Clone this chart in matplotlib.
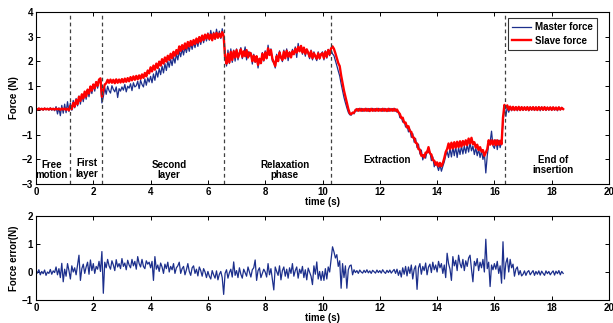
import numpy as np
import matplotlib
matplotlib.use("Agg")
import matplotlib.pyplot as plt

plt.rcParams['font.family'] = ['Liberation Sans', 'DejaVu Sans']
plt.rcParams['font.weight'] = 'bold'
plt.rcParams['axes.labelweight'] = 'bold'

# sampling: 0.05 s from 0 to 18.4 s
t_end = 18.4

master_force = [
    0.08,0.01,0.09,0.02,0.08,0.00,0.09,0.02,0.08,0.01,0.10,0.00,0.08,-0.02,0.15,-0.15,0.10,-0.22,0.20,-0.12,
    0.25,-0.10,0.35,-0.05,0.30,0.00,0.40,0.10,0.48,0.18,0.58,0.25,0.65,0.35,0.75,0.45,0.85,0.55,0.95,0.68,
    1.05,0.78,1.15,0.90,1.20,1.25,0.30,0.55,0.92,0.65,0.98,0.80,0.70,1.00,0.85,0.75,0.95,0.52,0.88,0.78,
    0.95,0.82,1.05,0.75,0.98,0.90,1.08,0.80,1.12,0.95,1.00,1.18,0.88,1.22,1.05,0.95,1.28,1.02,1.32,1.15,
    1.38,1.12,1.48,1.22,1.60,1.35,1.70,1.45,1.80,1.52,1.90,1.62,2.00,1.75,2.08,1.82,2.18,1.92,2.30,2.05,
    2.42,2.18,2.50,2.25,2.58,2.35,2.65,2.40,2.72,2.48,2.78,2.55,2.85,2.60,2.92,2.68,3.00,2.75,3.05,2.82,
    3.15,2.85,3.25,2.90,3.18,2.88,3.30,2.95,3.22,2.92,3.32,3.00,2.30,1.80,2.45,1.90,2.50,1.95,2.45,2.00,
    2.50,2.05,2.35,2.55,2.10,2.30,2.58,2.05,2.40,2.20,2.35,1.88,2.28,1.95,2.20,1.72,2.10,1.90,2.35,2.00,
    2.42,2.10,2.65,2.25,2.50,2.00,1.95,1.72,2.28,2.00,2.42,2.15,1.98,2.45,2.10,2.50,2.02,2.38,2.15,2.48,
    2.30,2.58,2.15,2.72,2.40,2.62,2.28,2.55,2.20,2.48,2.30,2.10,2.45,2.05,2.38,2.15,2.02,2.38,2.08,2.30,
    2.38,2.05,2.42,2.12,2.48,2.22,2.45,2.30,2.22,2.02,1.82,1.60,1.40,1.08,0.80,0.52,0.30,0.10,-0.08,-0.18,
    -0.20,-0.08,-0.15,0.04,-0.04,0.07,-0.03,0.08,-0.04,0.07,-0.03,0.08,-0.04,0.07,-0.02,0.08,-0.04,0.07,-0.03,0.08,
    -0.03,0.07,-0.04,0.08,-0.03,0.06,-0.04,0.08,-0.03,0.07,-0.04,0.06,-0.08,-0.05,-0.30,-0.28,-0.48,-0.45,-0.68,-0.62,
    -0.88,-0.78,-1.10,-0.95,-1.30,-1.15,-1.52,-1.38,-1.78,-1.62,-2.02,-1.80,-1.95,-1.65,-1.72,-1.70,-2.05,-1.90,-2.30,-2.10,
    -2.25,-2.45,-2.22,-2.48,-2.28,-2.10,-1.85,-1.68,-1.92,-1.55,-1.90,-1.50,-1.85,-1.48,-1.92,-1.52,-1.80,-1.45,-1.78,-1.45,
    -1.75,-1.40,-1.70,-1.32,-1.65,-1.45,-1.80,-1.52,-1.85,-1.58,-1.92,-1.65,-2.00,-1.75,-2.55,-1.85,-1.40,-1.30,-0.85,-1.45,
    -1.55,-1.20,-1.60,-1.22,-1.52,-1.28,-0.50,0.12,-0.25,0.15,-0.08,0.12,-0.02,0.13,-0.01,0.14,-0.02,0.12,-0.01,0.13,
    -0.01,0.14,0.00,0.13,-0.02,0.14,0.00,0.12,-0.01,0.14,0.00,0.13,-0.02,0.14,0.00,0.12,-0.01,0.13,0.00,0.12,
    -0.01,0.13,0.00,0.12,-0.02,0.13,0.01,0.12,0.04,
]

slave_force = [
    0.06,0.03,0.07,0.04,0.06,0.03,0.07,0.04,0.06,0.03,0.07,0.04,0.06,0.03,0.07,0.04,0.06,0.02,0.07,0.03,
    0.07,0.02,0.06,0.00,0.18,0.05,0.30,0.15,0.42,0.25,0.55,0.38,0.65,0.48,0.76,0.56,0.84,0.68,0.97,0.80,
    1.05,0.90,1.15,1.00,1.25,1.30,0.55,0.80,1.05,1.10,1.24,1.12,1.25,1.12,1.24,1.10,1.26,1.12,1.25,1.13,
    1.27,1.14,1.29,1.16,1.31,1.18,1.35,1.22,1.38,1.24,1.40,1.26,1.42,1.28,1.46,1.32,1.52,1.38,1.62,1.50,
    1.75,1.58,1.82,1.65,1.90,1.72,1.98,1.82,2.08,1.90,2.15,1.98,2.22,2.05,2.30,2.12,2.38,2.22,2.45,2.30,
    2.60,2.42,2.65,2.48,2.72,2.52,2.78,2.60,2.82,2.65,2.86,2.70,2.92,2.75,2.98,2.80,3.04,2.86,3.08,2.92,
    3.10,2.90,3.08,2.85,3.12,2.92,3.15,2.95,3.12,2.98,3.18,3.02,2.15,1.90,2.30,1.95,2.38,2.05,2.40,2.15,
    2.45,2.15,2.30,2.48,2.18,2.40,2.20,2.45,2.15,2.35,2.30,2.00,2.22,1.98,2.20,1.85,2.10,1.92,2.30,2.05,
    2.35,2.12,2.52,2.25,2.45,2.10,1.95,1.80,2.20,2.00,2.35,2.15,2.05,2.38,2.12,2.42,2.18,2.35,2.15,2.40,
    2.28,2.50,2.35,2.58,2.40,2.62,2.35,2.55,2.30,2.48,2.35,2.18,2.40,2.12,2.32,2.20,2.10,2.32,2.12,2.28,
    2.32,2.12,2.38,2.18,2.45,2.28,2.52,2.60,2.50,2.32,2.12,1.92,1.80,1.42,1.12,0.80,0.55,0.30,0.06,-0.12,
    -0.16,-0.10,-0.10,0.00,0.05,-0.02,0.06,-0.02,0.05,-0.02,0.06,-0.02,0.05,-0.03,0.06,-0.02,0.05,-0.02,0.06,-0.02,
    0.05,-0.02,0.06,-0.02,0.05,-0.03,0.06,-0.02,0.05,-0.02,0.06,-0.02,0.03,-0.08,-0.15,-0.32,-0.30,-0.50,-0.50,-0.70,
    -0.65,-0.85,-0.88,-1.10,-1.12,-1.32,-1.35,-1.58,-1.60,-1.85,-1.82,-1.92,-1.72,-1.72,-1.50,-1.75,-1.80,-2.02,-2.05,-2.22,
    -2.12,-2.28,-2.14,-2.28,-2.15,-1.95,-1.70,-1.58,-1.35,-1.58,-1.32,-1.55,-1.30,-1.52,-1.28,-1.50,-1.26,-1.48,-1.25,-1.42,
    -1.22,-1.42,-1.15,-1.35,-1.12,-1.38,-1.30,-1.52,-1.40,-1.62,-1.50,-1.68,-1.62,-1.85,-1.72,-1.58,-1.22,-1.40,-1.22,-1.40,
    -1.22,-1.42,-1.22,-1.40,-1.24,-1.38,-0.30,0.22,0.12,0.20,0.02,0.15,0.02,0.14,0.01,0.13,0.02,0.14,0.01,0.13,
    0.02,0.12,0.02,0.13,0.01,0.12,0.03,0.13,0.02,0.12,0.01,0.13,0.03,0.12,0.02,0.13,0.02,0.11,0.03,0.12,
    0.02,0.12,0.03,0.11,0.02,0.12,0.03,0.10,0.05,
]

force_error = [
    0.05,-0.04,0.08,-0.10,0.02,-0.06,0.07,-0.12,0.00,-0.05,0.09,-0.08,0.04,-0.02,0.18,-0.10,0.12,-0.20,0.31,-0.35,
    0.10,-0.15,0.30,0.05,-0.25,0.22,0.00,0.15,-0.10,0.25,0.60,-0.30,0.12,0.28,-0.05,0.18,0.35,-0.08,0.43,0.05,
    0.30,-0.05,0.20,0.10,0.38,0.02,0.73,-0.76,0.35,0.15,0.45,0.22,0.10,0.40,0.25,0.05,0.44,0.18,0.30,0.12,
    0.48,0.20,0.32,0.08,0.42,0.25,0.15,0.45,0.22,0.38,0.10,0.55,0.30,0.18,0.45,0.20,0.12,0.40,0.28,0.35,
    0.15,0.38,-0.30,0.55,0.10,0.25,0.02,0.32,0.18,-0.05,0.28,0.12,0.35,0.00,0.20,0.08,0.30,-0.05,0.15,0.22,
    0.35,-0.05,0.12,0.20,-0.10,0.08,0.30,0.02,-0.12,0.15,0.22,-0.05,0.10,-0.14,0.18,0.05,-0.15,0.12,0.00,-0.20,
    0.02,-0.15,-0.25,0.05,-0.10,-0.22,0.04,-0.28,-0.08,0.02,-0.20,-0.80,-0.05,0.08,-0.22,-0.02,0.10,-0.18,0.36,-0.12,
    0.05,-0.20,0.15,-0.08,-0.22,0.10,-0.02,-0.15,0.18,0.00,-0.18,0.08,0.15,0.43,-0.30,0.05,0.15,-0.20,-0.05,0.10,
    0.00,-0.18,0.30,-0.10,0.12,-0.25,-0.64,0.18,0.02,-0.12,0.22,-0.28,0.05,0.18,-0.15,0.10,-0.22,0.15,-0.05,0.30,
    -0.15,0.05,0.18,-0.22,0.10,-0.05,0.20,-0.20,0.08,-0.28,0.14,0.00,-0.15,-0.45,0.22,-0.08,0.36,-0.25,0.02,-0.30,
    0.02,-0.30,0.12,-0.25,0.18,0.00,0.45,0.90,0.72,0.50,0.62,0.20,0.40,-0.58,0.30,-0.20,0.22,-0.58,0.08,0.22,
    0.25,-0.10,0.08,-0.02,0.05,-0.05,0.07,0.00,-0.04,0.06,-0.02,0.08,-0.03,0.04,-0.05,0.06,0.01,-0.04,0.07,-0.02,
    0.05,-0.04,0.08,0.00,-0.05,0.06,-0.02,0.07,-0.04,0.03,0.09,-0.05,0.10,-0.12,0.05,-0.18,0.15,-0.08,0.20,-0.14,
    0.18,-0.05,0.25,-0.25,0.10,0.22,-0.62,0.15,0.30,-0.08,0.20,0.05,0.32,-0.10,0.18,0.28,-0.02,0.35,0.08,0.25,
    0.00,0.38,0.15,0.30,-0.05,0.25,-0.20,0.67,0.30,0.10,-0.30,0.55,0.22,0.42,0.05,0.60,0.30,0.15,0.45,0.05,
    0.40,0.20,0.50,0.60,0.10,-0.35,0.38,0.22,0.48,0.05,0.35,0.15,0.45,0.00,1.17,0.12,0.35,-0.52,0.25,0.08,
    0.30,0.10,0.38,-0.05,0.22,-0.40,1.08,-0.25,0.32,0.50,0.00,0.45,0.15,0.28,-0.15,0.10,0.18,-0.10,0.05,-0.14,
    -0.08,0.04,-0.12,0.00,0.05,-0.10,-0.02,0.05,-0.12,0.02,-0.08,0.04,-0.11,0.03,-0.05,-0.12,0.04,-0.06,0.02,-0.10,
    -0.02,0.04,-0.11,0.03,-0.06,0.05,-0.10,0.02,-0.05,
]

phase_bounds = [1.2, 2.3, 6.56, 10.28, 16.37]
phase_labels = ["Free\nmotion", "First\nlayer", "Second\nlayer", "Relaxation\nphase", "Extraction", "End of\ninsertion"]
phase_label_pos = [(0.55, -2.44), (1.77, -2.37), (4.64, -2.42), (8.69, -2.43), (12.24, -2.04), (18.05, -2.23)]

x_ticks = [0, 2, 4, 6, 8, 10, 12, 14, 16, 18, 20]
top_yticks = [-3, -2, -1, 0, 1, 2, 3, 4]
bot_yticks = [-1, 0, 1, 2]

BLUE = '#1c2f8c'
RED = '#ff0000'

W, H = 613, 323
fig = plt.figure(figsize=(W / 100, H / 100), dpi=100)
ax1 = fig.add_axes([36 / W, 1 - 184 / H, (609 - 36) / W, (184 - 12) / H])
ax2 = fig.add_axes([36 / W, 1 - 300 / H, (609 - 36) / W, (300 - 216) / H])

def time_axis(n):
    return np.linspace(0, t_end, n)

ax1.plot(time_axis(len(master_force)), master_force, color=BLUE, lw=0.9, label='Master force')
ax1.plot(time_axis(len(slave_force)), slave_force, color=RED, lw=1.7, label='Slave force')
for b in phase_bounds:
    ax1.axvline(b, color='0.25', lw=0.9, ls=(0, (3, 2.5)))
for lab, (x, y) in zip(phase_labels, phase_label_pos):
    ax1.text(x, y, lab, ha='center', va='center', fontsize=7, fontweight='bold', linespacing=1.05)

ax2.plot(time_axis(len(force_error)), force_error, color=BLUE, lw=0.9)

for ax, yt, ylim, ylab in [(ax1, top_yticks, (-3, 4), 'Force (N)'), (ax2, bot_yticks, (-1, 2), 'Force error(N)')]:
    ax.set_xlim(0, 20)
    ax.set_ylim(*ylim)
    ax.set_xticks(x_ticks)
    ax.set_yticks(yt)
    ax.tick_params(direction='in', top=True, right=True, length=3, width=0.7, labelsize=7, pad=2)
    for lbl in ax.get_xticklabels() + ax.get_yticklabels():
        lbl.set_fontweight('bold')
    ax.set_xlabel('time (s)', fontsize=7, fontweight='bold', labelpad=0)
    ax.set_ylabel(ylab, fontsize=7, fontweight='bold')
    ax.yaxis.set_label_coords(-0.030, 0.5)
    for s in ax.spines.values():
        s.set_linewidth(0.8)

leg = ax1.legend(loc='upper right', fontsize=7, frameon=True, fancybox=False, edgecolor='black',
                 handlelength=1.9, handletextpad=0.4, borderpad=0.45, labelspacing=0.35,
                 bbox_to_anchor=((597 - 36) / 573, (184 - 18) / 172), borderaxespad=0)
leg.get_frame().set_linewidth(0.8)
for txt in leg.get_texts():
    txt.set_fontweight('bold')

fig.savefig('out.png', dpi=100)
